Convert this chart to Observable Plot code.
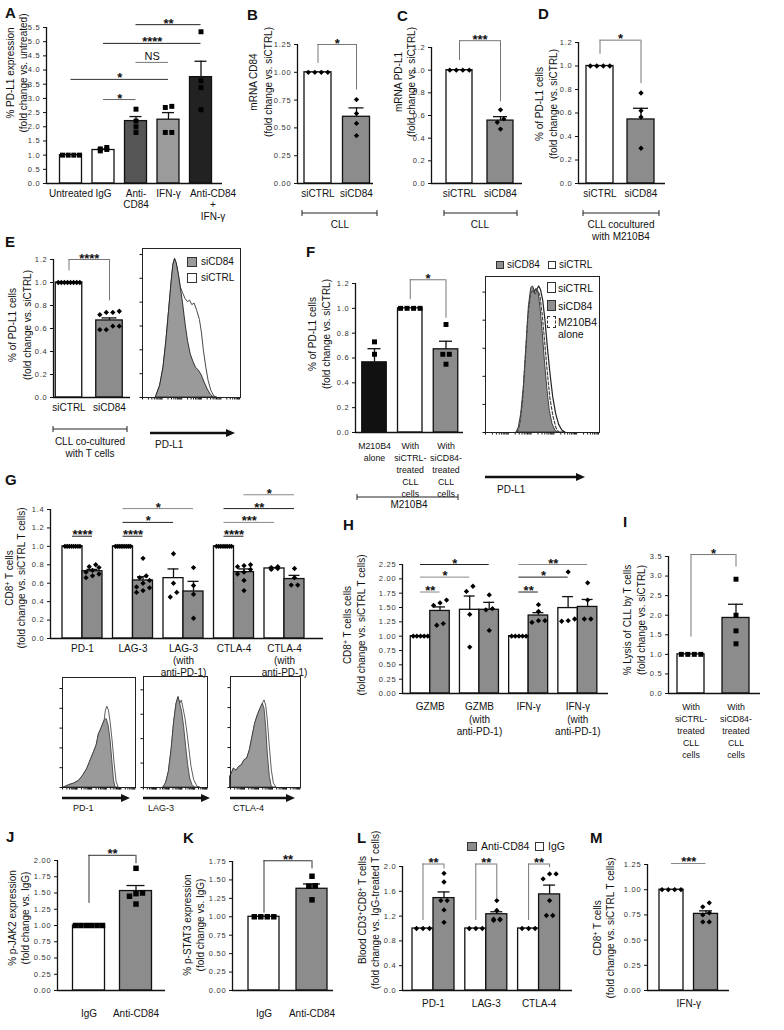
<!DOCTYPE html>
<html>
<head>
<meta charset="utf-8">
<script src="https://cdn.jsdelivr.net/npm/d3@7"></script>
<script src="https://cdn.jsdelivr.net/npm/@observablehq/plot@0.6"></script>
<style>
html,body{margin:0;padding:0;background:#fff;}
#fig{position:relative;width:784px;height:1030px;overflow:hidden;background:#fff;font-family:"Liberation Sans",Arial,Helvetica,sans-serif;color:#111;}
#fig > svg{position:absolute;}
.t{position:absolute;white-space:nowrap;}
</style>
</head>
<body>
<div id="fig"></div>
<script>
// ================= DATA =================
// Panel A
const A_keys = ["Untreated","IgG","Anti-CD84","IFN-γ","Anti-CD84 + IFN-γ"];
const A_labels = ["Untreated","IgG","Anti-\nCD84","IFN-γ","Anti-CD84\n+\nIFN-γ"];
const A_mean = [1.0,1.18,2.2,2.25,3.75];
const A_sem = [0,0.03,0.16,0.25,0.56];
const A_pts = [[1,1,1,1],[1.2,1.15,1.22,1.27],[2.62,2.2,2.0,1.8],[2.72,2.68,1.8,1.8],[5.35,3.62,3.38,2.6]];
const A_fill = ["#fff","#fff","#555","#9b9b9b","#222"];
const A_ticks = [0,0.5,1,1.5,2,2.5,3,3.5,4,4.5,5,5.5];
const A_sig = [
  ["Anti-CD84","Anti-CD84 + IFN-γ",5.6,"**","#222"],
  ["IgG","Anti-CD84 + IFN-γ",4.94,"****","#222"],
  ["Anti-CD84","IFN-γ",4.27,"NS","#777"],
  ["Untreated","IFN-γ",3.67,"*","#333"],
  ["IgG","Anti-CD84",2.96,"*","#666"]
];
// Panels B-F (siRNA)
const si_keys = ["siCTRL","siCD84"];
const si_fill = ["#fff","#8c8c8c"];
const B_mean = [1.0,0.6], B_sem = [0,0.08], B_pts = [[1,1,1,1],[0.755,0.63,0.54,0.43]];
const B_ticks = [0,0.25,0.5,0.75,1,1.25];
const C_mean = [1.0,0.555], C_sem = [0,0.035], C_pts = [[1,1,1,1],[0.65,0.57,0.54,0.48]];
const D_mean = [1.0,0.545], D_sem = [0,0.095], D_pts = [[1,1,1,1],[0.77,0.62,0.565,0.30]];
const E_mean = [1.0,0.67], E_sem = [0,0.022], E_pts = [[1,1,1,1,1,1,1,1],[0.75,0.74,0.74,0.72,0.62,0.59,0.59,0.62]];
const ticks12 = [0,0.2,0.4,0.6,0.8,1.0,1.2];
const F_keys = ["M210B4 alone","siCTRL","siCD84"];
const F_labels = ["M210B4\nalone","With\nsiCTRL-\ntreated\nCLL\ncells","With\nsiCD84-\ntreated\nCLL\ncells"];
const F_mean = [0.565,1.0,0.67], F_sem = [0.11,0,0.065];
const F_pts = [[0.73,0.63],[1,1,1,1],[0.87,0.63,0.63,0.55]];
const F_fill = ["#111","#fff","#8c8c8c"];
// Panel G
const G_groups = ["PD-1","LAG-3","LAG-3 (with anti-PD-1)","CTLA-4","CTLA-4 (with anti-PD-1)"];
const G_labels = ["PD-1","LAG-3","LAG-3\n(with\nanti-PD-1)","CTLA-4","CTLA-4\n(with\nanti-PD-1)"];
const G_white = [1.0,1.0,0.655,1.0,0.76], G_whiteSem = [0,0,0.1,0,0.01];
const G_gray = [0.73,0.63,0.51,0.72,0.645], G_graySem = [0.02,0.04,0.11,0.035,0.04];
const G_whitePts = [[1,1,1,1,1,1,1,1],[1,1,1,1,1,1,1,1,1],[0.92,0.6,0.45,0.5],[1,1,1,1,1,1,1,1],[0.77,0.76,0.75,0.78]];
const G_grayPts = [[0.8,0.78,0.77,0.74,0.72,0.7,0.68,0.66],[0.87,0.68,0.66,0.63,0.6,0.56,0.52,0.5,0.55],[0.77,0.575,0.48,0.22],[0.8,0.79,0.78,0.75,0.72,0.7,0.63,0.52],[0.76,0.58,0.58,0.66]];
const G_ticks = [0,0.2,0.4,0.6,0.8,1.0,1.2,1.4];
const G_sig = [
  ["PD-1|w","PD-1|g",1.11,"****","#222"],
  ["LAG-3|w","LAG-3|g",1.11,"****","#222"],
  ["LAG-3|w","LAG-3 (with anti-PD-1)|w",1.26,"*","#222"],
  ["LAG-3|w","LAG-3 (with anti-PD-1)|g",1.41,"*","#888"],
  ["CTLA-4|w","CTLA-4|g",1.11,"****","#222"],
  ["CTLA-4|w","CTLA-4 (with anti-PD-1)|w",1.26,"***","#888"],
  ["CTLA-4|w","CTLA-4 (with anti-PD-1)|g",1.41,"**","#222"],
  ["CTLA-4|g","CTLA-4 (with anti-PD-1)|g",1.56,"*","#888"]
];
// Panel H
const H_groups = ["GZMB","GZMB (with anti-PD-1)","IFN-γ","IFN-γ (with anti-PD-1)"];
const H_labels = ["GZMB","GZMB\n(with\nanti-PD-1)","IFN-γ","IFN-γ\n(with\nanti-PD-1)"];
const H_white = [1.0,1.46,1.0,1.49], H_whiteSem = [0,0.24,0,0.2];
const H_gray = [1.44,1.46,1.36,1.51], H_graySem = [0.07,0.13,0.05,0.13];
const H_whitePts = [[1,1,1,1,1],[1.78,1.87,1.38,0.81],[1,1,1,1,1],[2.12,1.3,1.26,1.27]];
const H_grayPts = [[1.58,1.535,1.63,1.19,1.22],[1.72,1.48,1.46,1.1],[1.55,1.43,1.27,1.24,1.27],[1.93,1.63,1.3,1.3]];
const H_ticks = [0,0.25,0.5,0.75,1,1.25,1.5,1.75,2,2.25];
const H_sig = [
  ["GZMB|w","GZMB|g",1.77,"**","#888"],
  ["GZMB|w","GZMB (with anti-PD-1)|w",2.03,"*","#888"],
  ["GZMB|w","GZMB (with anti-PD-1)|g",2.25,"*","#222"],
  ["IFN-γ|w","IFN-γ|g",1.77,"**","#222"],
  ["IFN-γ|w","IFN-γ (with anti-PD-1)|w",2.03,"*","#222"],
  ["IFN-γ|w","IFN-γ (with anti-PD-1)|g",2.25,"**","#888"]
];
// Panel I
const I_labels = ["With\nsiCTRL-\ntreated\nCLL\ncells","With\nsiCD84-\ntreated\nCLL\ncells"];
const I_mean = [1.0,1.93], I_sem = [0,0.35], I_pts = [[1,1,1,1],[2.92,2.0,1.6,1.27]];
const I_ticks = [0,0.5,1,1.5,2,2.5,3,3.5];
// Panels J, K
const ab_keys = ["IgG","Anti-CD84"];
const J_mean = [1.0,1.53], J_sem = [0,0.085], J_pts = [[1,1,1,1,1,1],[1.88,1.5,1.45,1.49,1.33]];
const J_ticks = [0,0.25,0.5,0.75,1,1.25,1.5,1.75,2];
const K_mean = [1.0,1.38], K_sem = [0,0.065], K_pts = [[1,1,1,1],[1.55,1.415,1.42,1.23]];
const K_ticks = [0,0.25,0.5,0.75,1,1.25,1.5,1.75];
// Panel L
const L_groups = ["PD-1","LAG-3","CTLA-4"];
const L_white = [1,1,1], L_whiteSem = [0,0,0];
const L_gray = [1.49,1.23,1.55], L_graySem = [0.1,0.04,0.15];
const L_whitePts = [[1,1,1],[1,1,1],[1,1,1]];
const L_grayPts = [[1.89,1.75,1.45,1.45,1.3,1.1],[1.45,1.29,1.15,1.14,1.15,1.13],[1.88,1.88,1.8,1.45,1.21,1.21]];
const L_ticks = [0,0.4,0.8,1.2,1.6,2.0];
const L_br = [
  ["PD-1|w","PD-1|g",2.04,1.13,1.96,"**","#777"],
  ["LAG-3|w","LAG-3|g",2.04,1.13,1.48,"**","#777"],
  ["CTLA-4|w","CTLA-4|g",2.04,1.13,1.98,"**","#777"]
];
// Panel M
const M_mean = [1.0,0.76], M_sem = [0,0.03], M_pts = [[1,1,1,1],[0.87,0.83,0.77,0.68,0.68,0.75]];
const M_ticks = [0,0.25,0.5,0.75,1,1.25];
// Flow histograms (x: fluorescence, % of axis; y: % of max count)
const E_hCD84 = [[13.6,0],[18,7.9],[21.4,20],[24.4,38],[27.1,58],[29.5,76],[31.5,89],[33.2,93],[34.9,90],[36.9,83],[39,74],[41.4,63],[44,49],[46.4,38],[49.2,29],[51.9,24],[54.6,20],[57.6,18],[60.3,15],[63.4,10],[66.1,6],[69.5,2],[72.9,0]];
const E_hCTRL = [[13.6,0],[18,7.9],[21.4,20],[24.4,38],[27.1,58],[29.5,76],[31.5,89],[33.2,93],[34.9,90],[36.9,83],[39,74],[41.4,70],[44,66],[46.4,64],[48.5,65],[50.8,62],[53.2,63],[55.9,58],[58.6,52],[60.7,43],[62.7,31],[65.1,20],[67.5,11],[70.2,4.5],[73.6,0.5],[76.3,0]];
const F_hCD84 = [[27.2,0],[29.2,3.2],[31.3,11.8],[33.6,28.9],[36,56.7],[38,80.3],[40.1,92.7],[41.8,93.6],[43.3,89.9],[44.7,92.1],[46.5,89.9],[48.2,80.3],[50.3,63.2],[52.3,43.9],[54.4,26.8],[56.4,13.9],[58.8,5.4],[61.4,1.1],[63.5,0]];
const F_hCTRL = [[28.4,0],[30.7,5.4],[33,18.2],[35.4,41.8],[37.7,69.6],[39.8,87.8],[41.5,92.7],[43.3,90.6],[45,91],[47.1,93.6],[48.8,91],[50.6,84.6],[52.6,71.7],[54.7,54.6],[57,37.5],[59.4,22.5],[62,11.8],[64.6,4.9],[67.5,1.1],[70.2,0]];
const F_hM210 = [[27.8,0],[30.1,5.4],[32.5,20.3],[34.8,46],[37.1,73.9],[39.5,89.3],[41.5,91],[43.6,88.9],[45.6,91.4],[47.7,87.8],[49.7,76],[51.8,58.9],[54.1,39.6],[56.4,22.5],[59.1,10.7],[61.7,3.2],[64.6,0]];
const G_hPD1g = [[2.3,0],[9.1,2.1],[15.9,3.6],[22.7,6],[28.6,11.1],[34.1,17.2],[38.6,24.7],[43.2,32.2],[46.8,38.3],[50,48.8],[52.3,51.8],[55,56.3],[57.7,60.8],[60.5,62.3],[63.2,56.3],[65.9,42.8],[68.2,24.7],[70.5,6.6],[72.7,0]];
const G_hPD1w = [[2.3,0],[9.1,2.1],[15.9,3.6],[22.7,6],[28.6,11.1],[34.1,17.2],[38.6,24.7],[43.2,32.2],[46.8,38.3],[50,48.8],[52.3,51.8],[55,56.3],[57.7,60.8],[59.5,69.9],[61.4,73.5],[63.6,69.9],[65.9,59.3],[68.6,42.8],[71.4,21.7],[74.1,5.1],[76.8,0]];
const G_hLAGg = [[31.3,0],[35.4,4.2],[39.6,14.1],[43.8,33.5],[47.9,59],[51.6,75.4],[54.7,81.4],[57.3,75.4],[60.4,68],[63.5,54.5],[66.7,36.5],[69.8,20.1],[72.9,8.1],[76.6,2.1],[80.2,0]];
const G_hLAGw = [[31.3,0],[35.4,4.2],[39.6,14.1],[43.8,33.5],[47.9,59],[51.6,75.4],[54.7,81.4],[57.3,75.4],[59.9,78.4],[62.5,71],[65.6,62],[68.8,48.5],[71.9,33.5],[75,18.6],[79.2,6.6],[84.4,0.6],[88.5,0]];
const G_hCTLAg = [[0,10.5],[1,11.1],[4.8,17.1],[8.6,15],[12.4,18.6],[16.2,20.1],[20,24.6],[23.8,26],[27.6,33.5],[31.4,45.5],[35.2,57.5],[39,65],[42.9,71],[46.2,75.4],[48.6,71],[51,54.5],[53.3,30.5],[56.2,9.6],[59,0.6],[61,0]];
const G_hCTLAw = [[0,10.5],[1,11.1],[4.8,17.1],[8.6,15],[12.4,18.6],[16.2,20.1],[20,24.6],[23.8,26],[27.6,33.5],[31.4,45.5],[35.2,57.5],[39,65],[42.9,71],[46.2,75.4],[48.6,78.4],[51,73.7],[53.3,60.5],[56.2,36.5],[59,15.6],[61.9,3.6],[65.7,0]];

// ================= HELPERS =================
const FONT = '"Liberation Sans", Arial, Helvetica, sans-serif';
const fig = document.getElementById("fig");
const STYLE = {background:"transparent", fontFamily:FONT, fontSize:"7.5px", color:"#111", overflow:"visible"};

function place(svg, left, top){
  svg.style.position = "absolute"; svg.style.left = left+"px"; svg.style.top = top+"px";
  svg.style.maxWidth = "none";
  svg.querySelectorAll('[aria-label^="y-axis"] text').forEach(t => { t.setAttribute("letter-spacing","0.8"); t.setAttribute("fill","#333"); });
  fig.appendChild(svg);
}

function swarm(vals, ppu, bw){
  const n = vals.length, off = new Array(n).fill(0);
  if (n < 2) return off;
  const order = d3.range(n).sort((a,b)=>vals[a]-vals[b]);
  const clusters = []; let cur = [order[0]];
  for (let k=1;k<n;k++){
    if ((vals[order[k]]-vals[order[k-1]])*ppu < 5.5) cur.push(order[k]);
    else { clusters.push(cur); cur=[order[k]]; }
  }
  clusters.push(cur);
  const maxRow = Math.max(1, Math.floor((bw-4)/6.5)+1);
  for (const cl of clusters){
    if (cl.length < 2) continue;
    const span = (vals[cl[cl.length-1]]-vals[cl[0]])*ppu;
    let rows;
    if (span < 1) rows = [cl];
    else { const nr = Math.ceil(cl.length/maxRow), sz = Math.ceil(cl.length/nr); rows = d3.range(nr).map(r=>cl.slice(r*sz,(r+1)*sz)); }
    for (const row of rows){
      const m = row.length; if (m<2) continue;
      const sp = Math.min(6.5, (bw-5)/(m-1));
      row.forEach((i,k)=> off[i] = (k-(m-1)/2)*sp);
    }
  }
  return off;
}

function barPanel(c){
  const keys = c.keys, n = keys.length, grouped = !!c.gap;
  const W = c.axisEnd - c.axisX, s = c.step;
  const B = grouped ? s : c.bw;
  const bw = grouped ? s - c.gap : c.bw;
  const p = 1 - B/s;
  const q = Math.max(0, (W/s - n + p)/2);
  const sideOf = i => grouped ? (i%2===0 ? 1 : -1) : 0;
  const offOf = i => grouped ? sideOf(i)*c.gap/2 : 0;
  const st = W/(n - p + 2*q), free = W - st*(n - p);
  const align = free > 1e-6 ? Math.min(1, Math.max(0, (c.firstCenter - offOf(0) - st*(1-p)/2)/free)) : 0.5;
  const band = d3.scaleBand().domain(keys).range([0,W]).paddingInner(p).paddingOuter(q).align(align);
  const BW = band.bandwidth();
  const idx = new Map(keys.map((k,i)=>[k,i]));
  const off = k => offOf(idx.get(k));
  const ctr = k => band(k) + BW/2 + off(k);
  const ppu = (c.y0Px - c.yTopPx)/c.ymax;
  const bars = keys.map((k,i)=>({key:k, mean:c.means[i], sem:c.sems[i], fill:c.fills[i], i}));
  const cap = c.cap ?? Math.round(bw*0.55);
  const marks = [];
  for (const sd of (grouped ? [1,-1] : [0])){
    const data = bars.filter(b => sideOf(b.i) === sd);
    const iL = sd===1 ? c.gap : 0, iR = sd===-1 ? c.gap : 0;
    const dx = grouped ? sd*c.gap/2 : 0;
    marks.push(Plot.barY(data, {x:"key", y:"mean", fill:"fill", stroke:"#111", strokeWidth:1.3, insetLeft:iL, insetRight:iR}));
    const eb = data.filter(b => b.sem > 0);
    marks.push(Plot.ruleX(eb, {x:"key", y1:"mean", y2:b=>b.mean+b.sem, dx, stroke:"#111", strokeWidth:1.3}));
    marks.push(Plot.tickY(eb, {x:"key", y:b=>b.mean+b.sem, insetLeft:iL+(bw-cap)/2, insetRight:iR+(bw-cap)/2, stroke:"#111", strokeWidth:1.3}));
  }
  // points
  const groupsByDx = new Map();
  keys.forEach((k,i)=>{
    const vals = c.pts[i]; if (!vals) return;
    const offs = swarm(vals, ppu, bw);
    vals.forEach((v,j)=>{
      const dx = Math.round((offOf(i)+offs[j])*10)/10;
      if (!groupsByDx.has(dx)) groupsByDx.set(dx, []);
      groupsByDx.get(dx).push({key:k, v});
    });
  });
  for (const [dx, data] of groupsByDx) marks.push(Plot.dot(data, {x:"key", y:"v", dx, symbol:c.symbol, r:c.r, fill:"#000"}));
  // axes lines
  marks.push(Plot.ruleY([0], {stroke:"#111", strokeWidth:1.3}));
  marks.push(Plot.ruleX([keys[0]], {y1:0, y2:c.ymax, dx:-(band(keys[0])+BW/2), stroke:"#111", strokeWidth:1.3}));
  // significance helpers
  const label = (a, b, y, t) => {
    const dx = off(a) + (ctr(b) - ctr(a))/2;
    const ns = t === "NS";
    marks.push(Plot.text([{a, y, t}], {x:"a", y:"y", text:"t", dx, dy: ns ? -2 : 3, lineAnchor:"bottom", fontSize: ns ? 11 : 13, fontWeight: ns ? "normal" : "bold", fill:"#111"}));
  };
  const hline = (a, b, y, col) => {
    marks.push(Plot.ruleY([{a, b, y}], {x1:"a", x2:"b", y:"y", insetLeft: BW/2 + off(a), insetRight: BW/2 - off(b), stroke:col, strokeWidth:1}));
  };
  for (const [a, b, y, t, col] of (c.sig || [])){ hline(a, b, y, col); label(a, b, y, t); }
  for (const [a, b, top, la, lb, t, col] of (c.brackets || [])){
    hline(a, b, top, col);
    marks.push(Plot.ruleX([{k:a, y1:la, y2:top}], {x:"k", y1:"y1", y2:"y2", dx:off(a), stroke:col, strokeWidth:1}));
    marks.push(Plot.ruleX([{k:b, y1:lb, y2:top}], {x:"k", y1:"y1", y2:"y2", dx:off(b), stroke:col, strokeWidth:1}));
    label(a, b, top, t);
  }
  // x labels
  const ldx = c.labelDx ?? (grouped ? (ctr(keys[1]) - ctr(keys[0]))/2 + offOf(0) : 0);
  const lo = c.labelShift || {};
  const labByDx = new Map();
  keys.forEach((k,i)=>{
    if (!c.xlabels[i]) return;
    const dx = ldx + (lo[k] || 0);
    if (!labByDx.has(dx)) labByDx.set(dx, []);
    labByDx.get(dx).push({key:k, t:c.xlabels[i]});
  });
  for (const [dx, lab] of labByDx)
    marks.push(Plot.text(lab, {x:"key", text:"t", frameAnchor:"bottom", lineAnchor:"top", dx, dy:c.labelDy, fontSize:c.labelSize || 10, lineHeight:c.lineHeight || 1.2, fill:"#111"}));

  const svg = Plot.plot({
    width:c.width, height:c.height,
    marginLeft:c.axisX - c.left, marginRight:c.left + c.width - c.axisEnd,
    marginTop:c.yTopPx - c.top, marginBottom:c.top + c.height - c.y0Px,
    x:{type:"band", domain:keys, paddingInner:p, paddingOuter:q, align, round:false, axis:null},
    y:{domain:[0,c.ymax], ticks:c.ticks, tickFormat:d => d.toFixed(c.dec), tickSize:3, tickPadding:3, label:null},
    color:{type:"identity"},
    style:STYLE,
    marks
  });
  place(svg, c.left, c.top);
}

function histPanel(h){
  const marks = [];
  for (const cv of h.curves){
    const data = cv.data.map(([x,y]) => ({x, y}));
    if (cv.fill) marks.push(Plot.areaY(data, {x:"x", y:"y", fill:cv.fill, stroke:cv.stroke, strokeWidth:cv.sw || 0.9}));
    else marks.push(Plot.line(data, {x:"x", y:"y", stroke:cv.stroke, strokeWidth:cv.sw || 1.2, strokeDasharray:cv.dash}));
  }
  marks.push(Plot.frame({stroke:"#222", strokeWidth:1}));
  const xt = [];
  for (let d=0; d<5; d++) for (let m=1; m<10; m++) xt.push((d + Math.log10(m))*20);
  const svg = Plot.plot({
    width:h.width, height:h.height,
    marginLeft:h.fx0 - h.left, marginRight:h.left + h.width - h.fx1,
    marginTop:h.fy0 - h.top, marginBottom:h.top + h.height - h.fy1,
    x:{domain:[0,100], ticks:xt, tickFormat:() => "", tickSize:2.5, label:null},
    y:{domain:[0,100], ticks:h.yticks, tickFormat:() => "", tickSize:2.5, label:null},
    style:STYLE,
    marks
  });
  place(svg, h.left, h.top);
}

function div(html, css){
  const d = document.createElement("div");
  d.className = "t"; d.innerHTML = html;
  Object.assign(d.style, css);
  fig.appendChild(d); return d;
}
function letter(t, x, base){ div(t, {left:x+"px", top:(base-12.7)+"px", fontSize:"15px", fontWeight:"bold", lineHeight:"15px"}); }
function ctext(html, cx, cy, fs){ div(html, {left:cx+"px", top:cy+"px", fontSize:(fs||10)+"px", lineHeight:"12px", transform:"translate(-50%,-50%)", textAlign:"center"}); }
function ltext(html, x, cy, fs){ div(html, {left:x+"px", top:cy+"px", fontSize:(fs||10)+"px", lineHeight:"12px", transform:"translate(0,-50%)"}); }
const SUP = '<span style="font-size:7px;position:relative;top:-3.5px;line-height:0">+</span>';
function ytitle(lines, x1, x2, cy){
  div(lines.join("<br>"), {left:((x1+x2)/2)+"px", top:cy+"px", fontSize:"10px", lineHeight:(x2-x1)+"px", textAlign:"center", transform:"translate(-50%,-50%) rotate(-90deg)"});
}
function capLine(x1, x2, y){
  const w = x2 - x1;
  fig.insertAdjacentHTML("beforeend", `<svg width="${w+2}" height="8" style="position:absolute;left:${x1-1}px;top:${y-4}px;overflow:visible"><path d="M1,1V7M1,4H${w+1}M${w+1},1V7" stroke="#222" stroke-width="1" fill="none"/></svg>`);
}
function arrow(x1, x2, y){
  const w = x2 - x1;
  fig.insertAdjacentHTML("beforeend", `<svg width="${w}" height="10" style="position:absolute;left:${x1}px;top:${y-5}px;overflow:visible"><path d="M0,5H${w-7}" stroke="#111" stroke-width="2.6"/><path d="M${w-9},1L${w},5L${w-9},9Z" fill="#111"/></svg>`);
}
function swatch(x, y, w, h, fill, dashed){
  div("", {left:x+"px", top:y+"px", width:w+"px", height:h+"px", background:fill, border:(dashed ? "1.3px dashed #333" : "1px solid #333"), boxSizing:"border-box"});
}

// ================= PANELS =================
barPanel({left:20, top:4, width:215, height:226, axisX:46, axisEnd:222, yTopPx:27, y0Px:183, ymax:5.5, ticks:A_ticks, dec:1,
  keys:A_keys, means:A_mean, sems:A_sem, fills:A_fill, pts:A_pts, symbol:"square", r:2.8, step:32.5, bw:22, firstCenter:24.5,
  xlabels:A_labels, labelDy:5, lineHeight:1.15, labelShift:{"Anti-CD84 + IFN-γ":12}, sig:A_sig});
barPanel({left:272, top:20, width:110, height:180, axisX:297, axisEnd:373, yTopPx:44, y0Px:183, ymax:1.25, ticks:B_ticks, dec:2,
  keys:si_keys, means:B_mean, sems:B_sem, fills:si_fill, pts:B_pts, symbol:"diamond2", r:2.4, step:38.5, bw:27, firstCenter:20.5,
  xlabels:si_keys, labelDy:5, brackets:[["siCTRL","siCD84",1.25,1.08,0.84,"*","#777"]]});
barPanel({left:408, top:20, width:122, height:180, axisX:431, axisEnd:522, yTopPx:47, y0Px:183, ymax:1.2, ticks:ticks12, dec:1,
  keys:si_keys, means:C_mean, sems:C_sem, fills:si_fill, pts:C_pts, symbol:"diamond2", r:2.4, step:41, bw:26, firstCenter:28,
  xlabels:si_keys, labelDy:5, brackets:[["siCTRL","siCD84",1.26,1.085,0.72,"***","#777"]]});
barPanel({left:555, top:15, width:120, height:185, axisX:578, axisEnd:665, yTopPx:42, y0Px:183, ymax:1.2, ticks:ticks12, dec:1,
  keys:si_keys, means:D_mean, sems:D_sem, fills:si_fill, pts:D_pts, symbol:"diamond2", r:2.4, step:41, bw:27, firstCenter:21.5,
  xlabels:si_keys, labelDy:5, brackets:[["siCTRL","siCD84",1.22,1.1,0.85,"*","#777"]]});
barPanel({left:30, top:235, width:108, height:185, axisX:53, axisEnd:130, yTopPx:259, y0Px:397, ymax:1.2, ticks:ticks12, dec:1,
  keys:si_keys, means:E_mean, sems:E_sem, fills:si_fill, pts:E_pts, symbol:"diamond2", r:2.4, step:40.5, bw:26.5, firstCenter:15.5,
  xlabels:si_keys, labelDy:5, brackets:[["siCTRL","siCD84",1.2,1.1,0.84,"****","#777"]]});
barPanel({left:332, top:260, width:140, height:240, axisX:355, axisEnd:463, yTopPx:283, y0Px:432, ymax:1.2, ticks:ticks12, dec:1,
  keys:F_keys, means:F_mean, sems:F_sem, fills:F_fill, pts:F_pts, symbol:"square", r:2.8, step:35.75, bw:24.5, firstCenter:19,
  xlabels:F_labels, labelDy:8, labelSize:8.8, lineHeight:1.36, brackets:[["siCTRL","siCD84",1.23,1.07,0.92,"*","#777"]]});

function groupedCfg(groups, labels, w, wS, g, gS, wP, gP){
  return {
    keys: groups.flatMap(x => [x+"|w", x+"|g"]),
    means: groups.flatMap((x,i) => [w[i], g[i]]),
    sems: groups.flatMap((x,i) => [wS[i], gS[i]]),
    fills: groups.flatMap(() => ["#fff","#8c8c8c"]),
    pts: groups.flatMap((x,i) => [wP[i], gP[i]]),
    xlabels: groups.flatMap((x,i) => [labels[i], null])
  };
}
barPanel(Object.assign(groupedCfg(G_groups, G_labels, G_white, G_whiteSem, G_gray, G_graySem, G_whitePts, G_grayPts),
  {left:27, top:480, width:305, height:200, axisX:50, axisEnd:323, yTopPx:509, y0Px:638, ymax:1.4, ticks:G_ticks, dec:1,
   symbol:"diamond2", r:2.4, step:25.25, gap:5.25, firstCenter:22, labelDy:5, lineHeight:1.2, sig:G_sig}));
barPanel(Object.assign(groupedCfg(H_groups, H_labels, H_white, H_whiteSem, H_gray, H_graySem, H_whitePts, H_grayPts),
  {left:378, top:545, width:240, height:195, axisX:402, axisEnd:608, yTopPx:564, y0Px:693, ymax:2.25, ticks:H_ticks, dec:2,
   symbol:"diamond2", r:2.4, step:24.6, gap:5.1, firstCenter:18, labelDy:8, lineHeight:1.25, sig:H_sig}));
barPanel({left:645, top:535, width:125, height:225, axisX:668, axisEnd:760, yTopPx:556, y0Px:693, ymax:3.5, ticks:I_ticks, dec:1,
  keys:si_keys, means:I_mean, sems:I_sem, fills:si_fill, pts:I_pts, symbol:"square", r:2.8, step:45, bw:27, firstCenter:22.5,
  xlabels:I_labels, labelDy:8, labelSize:8.8, lineHeight:1.36, brackets:[["siCTRL","siCD84",3.55,1.44,3.23,"*","#777"]]});
barPanel({left:34, top:840, width:140, height:185, axisX:57, axisEnd:165, yTopPx:860, y0Px:990, ymax:2, ticks:J_ticks, dec:2,
  keys:ab_keys, means:J_mean, sems:J_sem, fills:si_fill, pts:J_pts, symbol:"square", r:3.1, step:47, bw:32, firstCenter:31.5,
  xlabels:ab_keys, labelDy:18, brackets:[["IgG","Anti-CD84",2.08,1.34,1.95,"**","#333"]]});
barPanel({left:209, top:840, width:135, height:185, axisX:232, axisEnd:333, yTopPx:861, y0Px:990, ymax:1.75, ticks:K_ticks, dec:2,
  keys:ab_keys, means:K_mean, sems:K_sem, fills:si_fill, pts:K_pts, symbol:"square", r:3.1, step:48, bw:31, firstCenter:31.5,
  xlabels:ab_keys, labelDy:18, brackets:[["IgG","Anti-CD84",1.76,1.05,1.65,"**","#333"]]});
barPanel(Object.assign(groupedCfg(L_groups, L_groups, L_white, L_whiteSem, L_gray, L_graySem, L_whitePts, L_grayPts),
  {left:380, top:840, width:200, height:180, axisX:402, axisEnd:572, yTopPx:866, y0Px:990, ymax:2, ticks:L_ticks, dec:1,
   symbol:"diamond2", r:2.4, step:26.4, gap:5.4, firstCenter:20.5, labelDy:8, brackets:L_br}));
barPanel({left:624, top:840, width:115, height:180, axisX:647, axisEnd:729, yTopPx:864, y0Px:990, ymax:1.25, ticks:M_ticks, dec:2,
  keys:si_keys, means:M_mean, sems:M_sem, fills:si_fill, pts:M_pts, symbol:"diamond2", r:2.4, step:34.5, bw:24, firstCenter:24,
  xlabels:["IFN-γ", null], labelDx:17.25, labelDy:8, sig:[["siCTRL","siCD84",1.26,"***","#888"]]});

// Histograms
histPanel({left:130, top:240, width:120, height:170, fx0:142, fx1:240, fy0:248, fy1:397, yticks:[0,16,32,48,64,80,96],
  curves:[{data:E_hCTRL, fill:"#fff", stroke:"#333", sw:0.9}, {data:E_hCD84, fill:"#9a9a9a", stroke:"#222", sw:0.9}]});
histPanel({left:475, top:268, width:134, height:174, fx0:485, fx1:599, fy0:276, fy1:432, yticks:[0,18,36,54,72,90],
  curves:[{data:F_hCTRL, fill:"#fff", stroke:"#222", sw:1.2}, {data:F_hCD84, fill:"#8f8f8f", stroke:"#333", sw:0.9}, {data:F_hM210, stroke:"#444", sw:1.2, dash:"3,2"}]});
histPanel({left:52, top:668, width:93, height:128, fx0:62, fx1:135, fy0:677, fy1:787, yticks:[0,18,36,54,72,90],
  curves:[{data:G_hPD1w, fill:"#fff", stroke:"#333", sw:0.8}, {data:G_hPD1g, fill:"#9a9a9a", stroke:"#333", sw:0.8}]});
histPanel({left:136, top:668, width:80, height:128, fx0:143, fx1:207, fy0:676, fy1:787, yticks:[0,22,44,66,88],
  curves:[{data:G_hLAGw, fill:"#fff", stroke:"#333", sw:0.8}, {data:G_hLAGg, fill:"#9a9a9a", stroke:"#333", sw:0.8}]});
histPanel({left:222, top:668, width:88, height:128, fx0:230, fx1:300, fy0:676, fy1:787, yticks:[0,18,36,54,72,90],
  curves:[{data:G_hCTLAw, fill:"#fff", stroke:"#333", sw:0.8}, {data:G_hCTLAg, fill:"#9a9a9a", stroke:"#333", sw:0.8}]});

// ================= TEXT / ANNOTATIONS =================
[["A",5,18],["B",247,20],["C",397,21],["D",538,19],["E",5,247],["F",306,257],["G",5,485],["H",343,530],["I",623,527],["J",6,842],["K",183,843],["L",357,843],["M",590,843]]
  .forEach(([t,x,b]) => letter(t,x,b));

ytitle(["% PD-L1 expression","(fold change vs. untreated)"], 10, 23, 73);
ytitle(["mRNA CD84","(fold change vs. siCTRL)"], 253, 268, 82);
ytitle(["mRNA PD-L1","(fold change vs. siCTRL)"], 398, 411, 82);
ytitle(["% of PD-L1 cells","(fold change vs. siCTRL)"], 540, 554, 104);
ytitle(["% of PD-L1 cells","(fold change vs. siCTRL)"], 12, 27, 325);
ytitle(["% of PD-L1 cells","(fold change vs. siCTRL)"], 313, 327, 334);
ytitle(["CD8"+SUP+" T cells","(fold change vs. siCTRL T cells)"], 10, 22, 578);
ytitle(["CD8"+SUP+" T cells cells","(fold change vs. siCTRL T cells)"], 348, 362, 625);
ytitle(["% Lysis of CLL by T cells","(fold change vs. siCTRL)"], 628, 642, 620);
ytitle(["% p-JAK2 expression","(fold change vs. IgG)"], 12, 25, 918);
ytitle(["% p-STAT3 expression","(fold change vs. IgG)"], 187, 200, 925);
ytitle(["Blood CD3"+SUP+"CD8"+SUP+" T cells","(fold change vs. IgG-treated T cells)"], 362, 375, 910);
ytitle(["CD8"+SUP+" T cells","(fold change vs. siCTRL T cells)"], 597, 610, 928);

// captions under panels
capLine(302, 377, 213); ctext("CLL", 340, 225);
capLine(444, 517, 213); ctext("CLL", 480, 225);
capLine(583, 659, 213); ctext("CLL cocultured<br>with M210B4", 621, 231);
capLine(53, 127, 429); ctext("CLL co-cultured<br>with T cells", 90, 448);
capLine(357, 458, 497); ctext("M210B4", 409, 505);

// arrows
arrow(150, 235, 433); ltext("PD-L1", 155, 445);
arrow(485, 585, 477); ltext("PD-L1", 497, 490);
arrow(62, 130, 798); ltext("PD-1", 73, 808, 9);
arrow(143, 210, 798); ltext("LAG-3", 148, 808, 9);
arrow(230, 295, 798); ltext("CTLA-4", 233, 808, 9);

// legends
swatch(187, 257, 10, 10, "#9a9a9a"); ltext("siCD84", 201, 262);
swatch(187, 273, 10, 10, "#fff"); ltext("siCTRL", 201, 278);
swatch(496, 261, 8, 8, "#8f8f8f"); ltext("siCD84", 507, 265);
swatch(548, 261, 8, 8, "#fff"); ltext("siCTRL", 559, 265);
swatch(547, 282, 9, 11, "#fff"); ltext("siCTRL", 558, 288, 10.5);
swatch(547, 300, 9, 11, "#8f8f8f"); ltext("siCD84", 558, 306, 10.5);
swatch(547, 316, 9, 12, "#fff", true); ltext("M210B4<br>alone", 558, 328, 10.5);
swatch(467, 842, 10, 9, "#8c8c8c"); ltext("Anti-CD84", 481, 846, 10.5);
swatch(535, 842, 9, 9, "#fff"); ltext("IgG", 548, 846, 10.5);
</script>
</body>
</html>
